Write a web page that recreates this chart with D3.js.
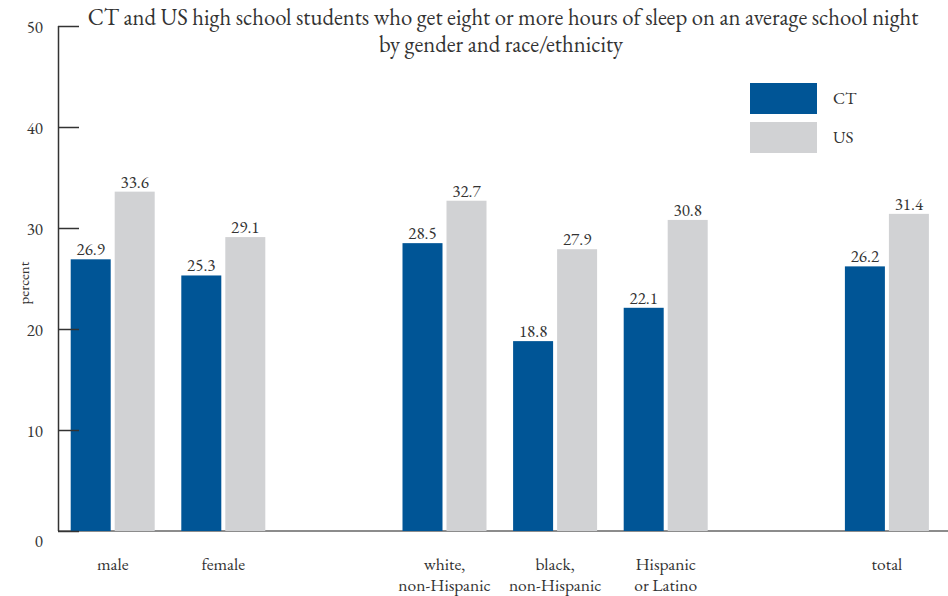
<!DOCTYPE html>
<html><head><meta charset="utf-8">
<script src="https://cdn.jsdelivr.net/npm/d3@7"></script>
<style>body{margin:0;background:#fff}svg{display:block}</style>
</head><body><svg id="c" width="948" height="596"></svg>
<script>
const slots = ["male","female","","white","black","hispanic","","total"];
const categories = ["male","female","white","black","hispanic","total"];
const categoryLabels = [["male"],["female"],["white,","non-Hispanic"],["black,","non-Hispanic"],["Hispanic","or Latino"],["total"]];
const ctValues = [26.9,25.3,28.5,18.8,22.1,26.2];
const usValues = [33.6,29.1,32.7,27.9,30.8,31.4];
const seriesNames = ["CT","US"];
const yTicks = [0,10,20,30,40,50];
const colors = {CT:"#005596", US:"#d1d2d4"};
const FONT = "EB Garamond";
const TXT = "#333";

const svg = d3.select("#c");
const y = d3.scaleLinear().domain([0,50]).range([531,26]);
const x = d3.scaleBand().domain(slots.map((s,i)=>i)).range([57.7,942.5]).padding(0);
const slotIndex = c => slots.indexOf(c);
const sub = d3.scaleBand().domain(seriesNames).range([13,97]).paddingInner(4/44);

function txt(sel){ return sel.attr("font-family",FONT).attr("fill",TXT); }

// baseline
svg.append("line").attr("x1",58).attr("x2",948).attr("y1",y(0)).attr("y2",y(0)).attr("stroke","#666").attr("stroke-width",1.5);

const data = categories.map((c,i)=>({c, vals:[{s:"CT",v:ctValues[i]},{s:"US",v:usValues[i]}], label:categoryLabels[i]}));
const g = svg.selectAll("g.grp").data(data).enter().append("g").attr("transform",d=>`translate(${x(slotIndex(d.c))},0)`);
g.selectAll("rect").data(d=>d.vals).enter().append("rect")
  .attr("x",d=>sub(d.s)).attr("width",sub.bandwidth())
  .attr("y",d=>y(d.v)).attr("height",d=>y(0)-y(d.v)).attr("fill",d=>colors[d.s]);
txt(g.selectAll("text.val").data(d=>d.vals).enter().append("text").attr("class","val"))
  .attr("x",d=>sub(d.s)+sub.bandwidth()/2).attr("y",d=>y(d.v)-4)
  .attr("text-anchor","middle").attr("font-size",17).text(d=>d.v.toFixed(1));
g.each(function(d){
  const t = txt(d3.select(this).append("text")).attr("text-anchor","middle").attr("font-size",17.5);
  d.label.forEach((l,j)=>t.append("tspan").attr("x",55).attr("y",570+j*21).text(l));
});

// y axis
const yAxis = d3.axisRight(y).tickValues(yTicks).tickSize(21).tickFormat("");
const ya = svg.append("g").attr("transform","translate(58,0)").call(yAxis);
ya.select(".domain").attr("stroke","#333").attr("stroke-width",1.5).attr("d",`M0.5,${y(50)}V${y(0)}`);
ya.selectAll(".tick line").attr("stroke","#333").attr("stroke-width",1.5);
txt(svg.selectAll("text.yl").data(yTicks).enter().append("text").attr("class","yl"))
  .attr("x",43).attr("y",d=>y(d)+(d===0?16:7)).attr("text-anchor","end").attr("font-size",17).text(d=>d);

txt(svg.append("text")).attr("transform","translate(29,283) rotate(-90)").attr("text-anchor","middle").attr("font-size",15).text("percent");

// title
const title = txt(svg.append("text")).attr("text-anchor","middle").attr("font-size",22.7);
title.append("tspan").attr("x",503).attr("y",25).text("CT and US high school students who get eight or more hours of sleep on an average school night");
title.append("tspan").attr("x",501).attr("y",52).text("by gender and race/ethnicity");

// legend
const lg = svg.append("g").attr("transform","translate(750,83)");
seriesNames.forEach((s,i)=>{
  lg.append("rect").attr("x",0).attr("y",i*39).attr("width",67).attr("height",31).attr("fill",colors[s]);
  txt(lg.append("text")).attr("x",83).attr("y",i*39+21).attr("font-size",17).text(s);
});
</script></body></html>
